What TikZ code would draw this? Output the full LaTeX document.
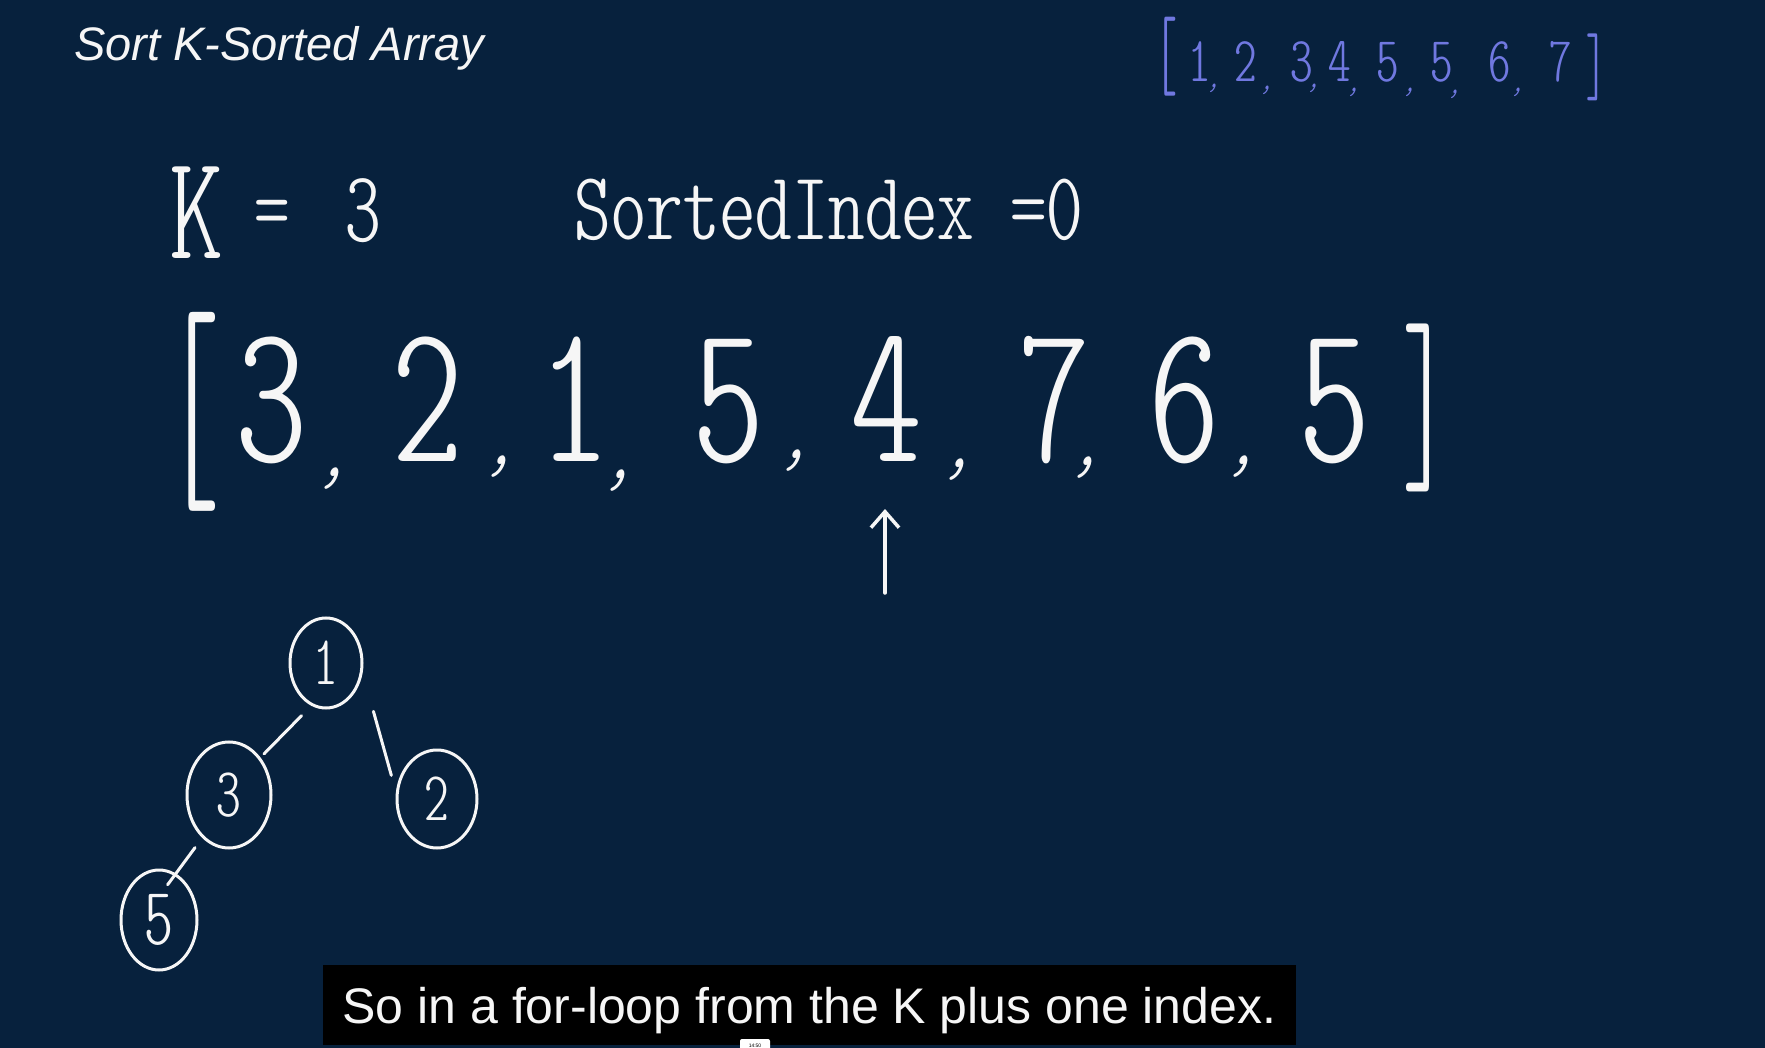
\documentclass[tikz,border=0pt]{standalone}
\usepackage{fontspec}
\usepackage{graphicx}
\setmainfont{Liberation Sans}
\newfontfamily\hand{lmmonoltcond10-regular.otf}
\newfontfamily\handc[FakeSlant=0.3]{lmmonoltcond10-regular.otf}
\usetikzlibrary{shapes.geometric,arrows.meta}
\definecolor{bg}{RGB}{7,33,61}
\definecolor{chalk}{RGB}{246,246,246}
\definecolor{violet}{RGB}{112,120,224}
\newcommand\digcomma[4]{% digit, has comma, dx, raise
  \makebox[0pt]{#1}\ifnum#2=1 \makebox[0pt][l]{\hspace{#3pt}\raisebox{#4pt}{\handc\fontsize{\csz}{\csz}\selectfont,}}\fi}
\begin{document}
\begin{tikzpicture}[x=1pt,y=-1pt,
  hw/.style={text=chalk,inner sep=0pt,anchor=base},
  md/.style={hw,font=\hand\fontsize{200}{200}\selectfont},
  pd/.style={text=violet,inner sep=0pt,anchor=base,font=\hand\fontsize{64}{64}\selectfont},
  brk/.style={inner sep=0pt,anchor=center,font=\hand},
  tnode/.style={ellipse,draw=chalk,line width=3pt,inner sep=0pt,text=chalk,font=\hand\fontsize{70}{70}\selectfont},
  tedge/.style={draw=chalk,line width=3pt,line cap=round}]
\fill[bg] (0,0) rectangle (1765,1048);
\useasboundingbox (0,0) rectangle (1765,1048);

% title
\node[anchor=base west,inner sep=0pt,text=chalk,font=\itshape\fontsize{47}{50}\selectfont] (title) at (74,61) {Sort K-Sorted Array};

% sorted result (violet)
\node[brk,text=violet] (pl) at (1166,57) {\resizebox*{\width}{79pt}{\fontsize{62}{62}\selectfont[}};
\node[brk,text=violet] (pr) at (1596,67) {\resizebox*{\width}{67pt}{\fontsize{56}{56}\selectfont]}};
\def\csz{36}
\foreach \d/\x/\c/\cx/\cy [count=\i] in {1/1200/1/1214/89,2/1246/1/1267/91,3/1302/1/1314/89,4/1340/1/1354/93,5/1388/1/1410/93,5/1442/1/1455/95,6/1500/1/1518/93,7/1561/0/0/0}{
  \pgfmathsetmacro\dx{\cx-\x-7}
  \pgfmathsetmacro\dy{82+1.8-\cy}
  \node[pd] (p\i) at (\x,82) {\digcomma{\d}{\c}{\dx}{\dy}};
}

% K = 3
\node[hw,font=\hand\fontsize{150}{150}\selectfont] (kK) at (197,259) {K};
\node[hw,font=\hand\fontsize{101}{101}\selectfont] (keq) at (272,242) {=};
\node[hw,font=\hand\fontsize{101}{101}\selectfont] (k3) at (363,242) {3};

% SortedIndex =0
\node[hw,anchor=base west,font=\hand\fontsize{97}{97}\selectfont] (si) at (574,240) {\resizebox{509pt}{\height}{SortedIndex =0}};

% main array
\node[brk,text=chalk] (ml) at (193,412) {\resizebox*{\width}{199pt}{\fontsize{150}{150}\selectfont[}};
\node[brk,text=chalk] (mr) at (1426,408) {\resizebox*{\width}{168pt}{\fontsize{130}{130}\selectfont]}};
\def\csz{90}
\foreach \d/\x/\c/\cx/\cy [count=\i] in {3/271/1/334/481,2/427/1/501/469,1/574/1/620/483,5/728/1/796/463,4/886/1/959/472,7/1054/1/1087/470,6/1184/1/1243/469,5/1334/0/0/0}{
  \pgfmathsetmacro\dx{\cx-\x-17}
  \pgfmathsetmacro\dy{462+4.5-\cy}
  \node[md] (m\i) at (\x,462) {\digcomma{\d}{\c}{\dx}{\dy}};
}

% pointer arrow
\coordinate (atail) at (885,593);
\coordinate (ahead) at (885,509);
\draw[chalk,line width=3.5pt,line cap=round,-{Straight Barb[length=16pt,width=28pt]}] (atail) -- (ahead);

% heap tree
\node[tnode,minimum width=72pt,minimum height=90pt] (n1) at (326,663) {1};
\node[tnode,minimum width=84pt,minimum height=106pt] (n3) at (229,795) {3};
\node[tnode,minimum width=80pt,minimum height=98pt] (n2) at (437,799) {2};
\node[tnode,minimum width=76pt,minimum height=100pt,font=\hand\fontsize{82}{82}\selectfont] (n5) at (159,920) {5};
\draw[tedge,shorten <=14pt,shorten >=5pt] (n1.-109) -- (n3.50);
\draw[tedge,shorten <=40pt,shorten >=17pt] (n1.-15) -- (n2.170);
\draw[tedge,shorten <=12pt,shorten >=-14pt] (n3.-122) -- (n5.70);

% caption
\node[fill=black,minimum width=973pt,minimum height=80pt,inner sep=0pt] (subbox) at (809.5,1005) {};
\node[anchor=base,inner sep=0pt,text=chalk,font=\fontsize{50}{55}\selectfont] (sub) at (809.5,1023) {So in a for-loop from the K plus one index.};
\node[fill=white,rounded corners=2pt,minimum width=30pt,minimum height=16pt,inner sep=0pt] (tsbox) at (755,1047) {};
\node[anchor=base,inner sep=0pt,text=black,font=\fontsize{5}{5}\selectfont] (ts) at (755,1047) {14:50};
\end{tikzpicture}
\end{document}
